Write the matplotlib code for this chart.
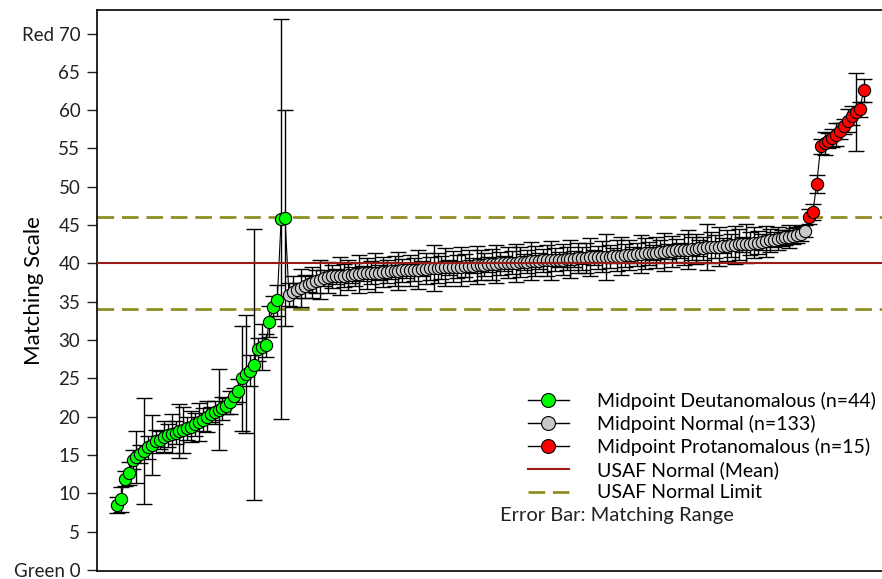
import numpy as np
import matplotlib.pyplot as plt
from matplotlib.lines import Line2D

plt.rcParams['font.family'] = ['Lato', 'DejaVu Sans']

# midpoints (sorted) and half of the matching range, per group
deutan_mid = [8.5, 9.2, 11.9, 12.6, 14.4, 14.8, 15.1, 15.5, 16.0, 16.3,
              16.8, 17.0, 17.4, 17.6, 17.8, 17.9, 18.1, 18.3, 18.5, 18.7,
              19.0, 19.3, 19.6, 20.0, 20.3, 20.6, 20.9, 21.1, 21.4, 21.9,
              22.7, 23.4, 25.0, 25.6, 26.0, 26.8, 28.8, 29.1, 29.3, 32.4,
              34.3, 35.2, 45.8, 45.9]
deutan_err = [1.0, 1.6, 1.0, 1.5, 1.2, 3.4, 1.2, 6.9, 1.5, 3.9,
              1.5, 1.2, 2.0, 1.5, 2.5, 1.5, 3.5, 3.0, 1.5, 2.0,
              1.5, 2.5, 1.5, 2.0, 1.0, 1.5, 5.3, 1.5, 1.0, 1.5,
              1.0, 1.5, 6.9, 7.7, 2.0, 17.7, 1.5, 3.0, 1.5, 2.0,
              1.5, 2.0, 26.1, 14.1]

normal_mid = [35.9, 36.3, 36.5, 36.8, 37.0, 37.3, 37.5, 37.7, 37.9, 38.1,
              38.2, 38.3, 38.3, 38.4, 38.4, 38.5, 38.5, 38.6, 38.6, 38.7,
              38.7, 38.8, 38.8, 38.8, 38.9, 38.9, 39.0, 39.0, 39.0, 39.1,
              39.1, 39.1, 39.2, 39.2, 39.3, 39.3, 39.4, 39.4, 39.4, 39.5,
              39.5, 39.5, 39.6, 39.6, 39.6, 39.7, 39.7, 39.7, 39.8, 39.8,
              39.8, 39.9, 39.9, 39.9, 40.0, 40.0, 40.1, 40.1, 40.1, 40.2,
              40.2, 40.2, 40.3, 40.3, 40.3, 40.4, 40.4, 40.4, 40.5, 40.5,
              40.5, 40.6, 40.6, 40.6, 40.7, 40.7, 40.7, 40.8, 40.8, 40.8,
              40.9, 40.9, 40.9, 41.0, 41.0, 41.0, 41.1, 41.1, 41.1, 41.2,
              41.2, 41.3, 41.3, 41.4, 41.4, 41.5, 41.5, 41.6, 41.6, 41.7,
              41.7, 41.8, 41.8, 41.9, 41.9, 42.0, 42.0, 42.1, 42.1, 42.2,
              42.2, 42.3, 42.3, 42.4, 42.4, 42.5, 42.5, 42.6, 42.6, 42.7,
              42.7, 42.8, 42.9, 43.0, 43.1, 43.2, 43.3, 43.4, 43.5, 43.6,
              43.7, 43.9, 44.2]
normal_err = [1.5, 2.0, 1.0, 2.5, 1.5, 1.0, 2.0, 1.5, 2.5, 1.0,
              2.0, 1.5, 1.0, 2.5, 1.5, 2.0, 1.0, 1.5, 2.5, 1.0,
              2.0, 1.5, 2.5, 1.0, 2.0, 1.5, 1.0, 2.0, 2.5, 1.5,
              1.0, 2.0, 1.5, 2.5, 1.0, 2.0, 1.5, 3.0, 2.0, 1.5,
              2.5, 1.0, 2.0, 1.5, 2.5, 1.5, 2.0, 1.0, 2.5, 2.0,
              1.5, 1.0, 2.0, 2.5, 1.5, 1.0, 2.0, 1.5, 2.5, 2.0,
              1.0, 1.5, 2.5, 2.0, 1.0, 1.5, 2.0, 2.5, 1.5, 1.0,
              2.0, 1.5, 2.5, 1.0, 2.0, 1.5, 2.0, 2.5, 1.0, 1.5,
              2.0, 3.0, 1.5, 1.0, 2.0, 2.5, 1.5, 2.0, 1.0, 1.5,
              2.5, 2.0, 1.5, 1.0, 2.0, 1.5, 2.5, 1.0, 2.0, 1.5,
              1.0, 2.0, 2.5, 1.5, 2.0, 1.0, 1.5, 3.0, 2.0, 1.5,
              2.5, 1.0, 2.0, 1.5, 2.5, 2.0, 1.0, 2.5, 1.5, 2.0,
              1.5, 1.0, 2.0, 1.5, 1.0, 1.5, 1.0, 1.0, 1.5, 1.0,
              1.0, 1.0, 0.8]

protan_mid = [46.1, 46.7, 50.4, 55.3, 55.7, 56.0, 56.4, 56.8, 57.3, 57.9,
              58.6, 59.3, 59.8, 60.1, 62.6]
protan_err = [1.0, 1.0, 1.2, 1.0, 1.5, 1.0, 1.2, 1.5, 1.0, 1.0,
              1.5, 1.2, 5.1, 1.0, 1.5]

usaf_mean = 40
usaf_limits = [34, 46]

groups = [
    ('Midpoint Deutanomalous (n=44)', deutan_mid, deutan_err, '#00ff00'),
    ('Midpoint Normal (n=133)', normal_mid, normal_err, '#c8c8c8'),
    ('Midpoint Protanomalous (n=15)', protan_mid, protan_err, '#ff0000'),
]

fig = plt.figure(figsize=(8.82, 5.79), dpi=100)
ax = fig.add_axes([97 / 882, 8 / 579, 787 / 882, 561 / 579])

all_mid = deutan_mid + normal_mid + protan_mid
x_all = np.arange(len(all_mid))

# limit lines behind the data
for lim in usaf_limits:
    ax.axhline(lim, color='#8f8f25', lw=2, dashes=(6, 2.8), zorder=1)

ax.plot(x_all, all_mid, color='black', lw=0.8, zorder=2)

start = 0
handles = []
for label, mid, err, col in groups:
    x = np.arange(start, start + len(mid))
    ax.errorbar(x, mid, yerr=err, fmt='none', ecolor='black', elinewidth=1,
                capsize=5.5, capthick=1, zorder=3)
    ax.plot(x, mid, 'o', ms=8.8, mfc=col, mec='black', mew=0.8, zorder=4)
    handles.append(Line2D([], [], color='black', lw=1, marker='o', ms=10,
                          mfc=col, mec='black', mew=0.8, label=label))
    start += len(mid)

ax.axhline(usaf_mean, color='#9b1b1b', lw=1.5, zorder=5)
handles.append(Line2D([], [], color='#9b1b1b', lw=1.5, label='USAF Normal (Mean)'))
handles.append(Line2D([], [], color='#8f8f25', lw=2, dashes=(6, 2.8),
                      label='USAF Normal Limit'))

ax.set_xlim(-5.1, 196.2)
ax.set_ylim(-0.13, 73.07)
ax.set_xticks([])
yt = np.arange(0, 71, 5)
ax.set_yticks(yt)
ax.set_yticklabels(['Green 0'] + [str(v) for v in yt[1:-1]] + ['Red 70'])
ax.tick_params(axis='y', length=7, width=1, pad=5, labelsize=13.5,
               colors='#222222', labelcolor='#222222')
ax.spines['right'].set_visible(False)
for s in ['left', 'top', 'bottom']:
    ax.spines[s].set_linewidth(1.2)
ax.set_ylabel('Matching Scale', fontsize=16)
ax.yaxis.set_label_coords(-53 / 787, 0.5)

leg = ax.legend(handles=handles, loc='upper left',
                bbox_to_anchor=(528 / 882, 1 - 392 / 579),
                bbox_transform=fig.transFigure, frameon=False, fontsize=14,
                handlelength=2.1, handletextpad=1.45, labelspacing=0.26,
                borderpad=0, borderaxespad=0)
fig.text(500 / 882, 1 - 515 / 579, 'Error Bar: Matching Range', fontsize=14.5,
         va='center', ha='left', color='#222222')

# title sits above the visible area; only its lowest strokes show
fig.text(0.5, 1 + 6 / 579, 'Matching Ranges and Midpoints (Rayleigh Matching)',
         fontsize=14, ha='center', va='baseline')

fig.savefig('out.png', dpi=100)
